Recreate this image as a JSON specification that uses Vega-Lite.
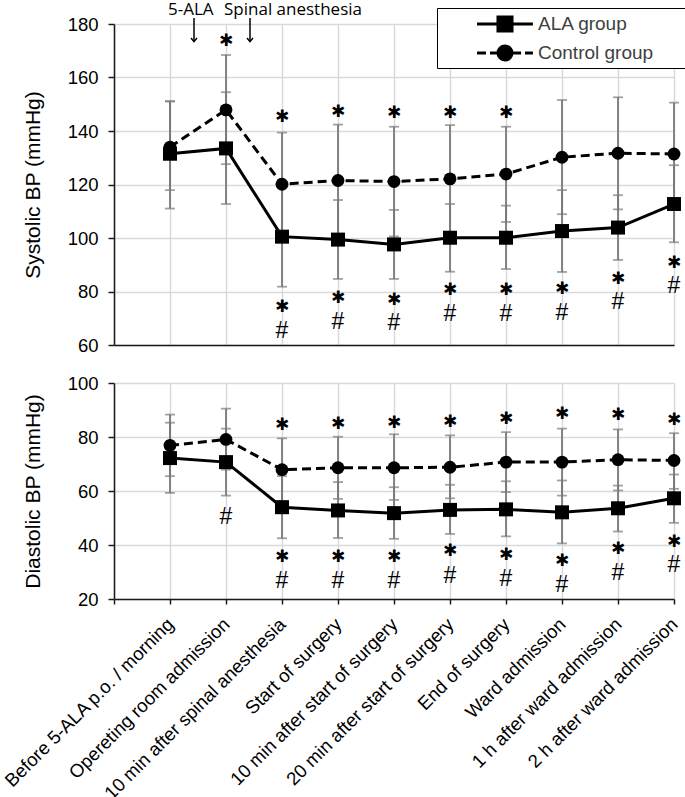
{
  "$schema": "https://vega.github.io/schema/vega-lite/v6.json",
  "background": "white",
  "padding": {"left": 0, "top": 0, "right": 0, "bottom": 0},
  "spacing": 19,
  "config": {
    "view": {"stroke": null},
    "axis": {
      "domainColor": "#1a1a1a", "domainWidth": 1.5,
      "tickColor": "#1a1a1a", "tickWidth": 1.5,
      "gridColor": "#d9d9d9", "gridWidth": 1.5,
      "labelFont": "Liberation Sans", "labelFontSize": 18.5, "labelColor": "#000000",
      "titleFont": "Liberation Sans", "titleFontSize": 21, "titleFontWeight": "normal", "titleColor": "#000000"
    }
  },
  "datasets": {
    "sbp": [
      {"time": "Before 5-ALA p.o. / morning", "group": "ALA group", "mean": 131.5, "lo": 111.0, "hi": 151.2},
      {"time": "Opereting room admission", "group": "ALA group", "mean": 133.5, "lo": 112.7, "hi": 154.5},
      {"time": "10 min after spinal anesthesia", "group": "ALA group", "mean": 100.5, "lo": 81.8, "hi": 119.2},
      {"time": "Start of surgery", "group": "ALA group", "mean": 99.4, "lo": 84.7, "hi": 114.2},
      {"time": "10 min after start of surgery", "group": "ALA group", "mean": 97.6, "lo": 84.7, "hi": 110.5},
      {"time": "20 min after start of surgery", "group": "ALA group", "mean": 100.1, "lo": 87.4, "hi": 112.7},
      {"time": "End of surgery", "group": "ALA group", "mean": 100.1, "lo": 88.4, "hi": 112.1},
      {"time": "Ward admission", "group": "ALA group", "mean": 102.6, "lo": 87.3, "hi": 117.9},
      {"time": "1 h after ward admission", "group": "ALA group", "mean": 103.9, "lo": 91.8, "hi": 116.0},
      {"time": "2 h after ward admission", "group": "ALA group", "mean": 112.7, "lo": 98.4, "hi": 127.2},
      {"time": "Before 5-ALA p.o. / morning", "group": "Control group", "mean": 134.0, "lo": 117.9, "hi": 151.0},
      {"time": "Opereting room admission", "group": "Control group", "mean": 147.9, "lo": 127.6, "hi": 168.4},
      {"time": "10 min after spinal anesthesia", "group": "Control group", "mean": 120.1, "lo": 100.7, "hi": 139.4},
      {"time": "Start of surgery", "group": "Control group", "mean": 121.5, "lo": 100.5, "hi": 142.4},
      {"time": "10 min after start of surgery", "group": "Control group", "mean": 121.1, "lo": 100.6, "hi": 141.6},
      {"time": "20 min after start of surgery", "group": "Control group", "mean": 122.1, "lo": 102.0, "hi": 142.2},
      {"time": "End of surgery", "group": "Control group", "mean": 123.9, "lo": 106.0, "hi": 141.6},
      {"time": "Ward admission", "group": "Control group", "mean": 130.2, "lo": 108.9, "hi": 151.6},
      {"time": "1 h after ward admission", "group": "Control group", "mean": 131.7, "lo": 110.7, "hi": 152.6},
      {"time": "2 h after ward admission", "group": "Control group", "mean": 131.4, "lo": 112.2, "hi": 150.6}
    ],
    "dbp": [
      {"time": "Before 5-ALA p.o. / morning", "group": "ALA group", "mean": 72.2, "lo": 59.3, "hi": 85.3},
      {"time": "Opereting room admission", "group": "ALA group", "mean": 70.7, "lo": 58.3, "hi": 83.1},
      {"time": "10 min after spinal anesthesia", "group": "ALA group", "mean": 54.0, "lo": 42.5, "hi": 65.5},
      {"time": "Start of surgery", "group": "ALA group", "mean": 52.8, "lo": 42.6, "hi": 63.3},
      {"time": "10 min after start of surgery", "group": "ALA group", "mean": 51.8, "lo": 42.3, "hi": 61.4},
      {"time": "20 min after start of surgery", "group": "ALA group", "mean": 53.0, "lo": 44.1, "hi": 62.3},
      {"time": "End of surgery", "group": "ALA group", "mean": 53.2, "lo": 43.2, "hi": 63.6},
      {"time": "Ward admission", "group": "ALA group", "mean": 52.1, "lo": 40.6, "hi": 63.9},
      {"time": "1 h after ward admission", "group": "ALA group", "mean": 53.6, "lo": 45.0, "hi": 62.0},
      {"time": "2 h after ward admission", "group": "ALA group", "mean": 57.3, "lo": 48.2, "hi": 66.1},
      {"time": "Before 5-ALA p.o. / morning", "group": "Control group", "mean": 76.9, "lo": 65.5, "hi": 88.3},
      {"time": "Opereting room admission", "group": "Control group", "mean": 79.1, "lo": 67.9, "hi": 90.5},
      {"time": "10 min after spinal anesthesia", "group": "Control group", "mean": 67.9, "lo": 56.3, "hi": 79.5},
      {"time": "Start of surgery", "group": "Control group", "mean": 68.6, "lo": 57.1, "hi": 80.1},
      {"time": "10 min after start of surgery", "group": "Control group", "mean": 68.6, "lo": 56.7, "hi": 81.0},
      {"time": "20 min after start of surgery", "group": "Control group", "mean": 68.8, "lo": 57.3, "hi": 80.6},
      {"time": "End of surgery", "group": "Control group", "mean": 70.7, "lo": 59.6, "hi": 81.8},
      {"time": "Ward admission", "group": "Control group", "mean": 70.7, "lo": 58.3, "hi": 83.1},
      {"time": "1 h after ward admission", "group": "Control group", "mean": 71.6, "lo": 60.2, "hi": 82.8},
      {"time": "2 h after ward admission", "group": "Control group", "mean": 71.3, "lo": 60.8, "hi": 81.4}
    ],
    "sbp_sig": [
      {"time": "Opereting room admission", "sym": "✱", "y": 173.6},
      {"time": "10 min after spinal anesthesia", "sym": "✱", "y": 145.2},
      {"time": "Start of surgery", "sym": "✱", "y": 147.0},
      {"time": "10 min after start of surgery", "sym": "✱", "y": 146.8},
      {"time": "20 min after start of surgery", "sym": "✱", "y": 146.8},
      {"time": "End of surgery", "sym": "✱", "y": 146.8},
      {"time": "10 min after spinal anesthesia", "sym": "✱", "y": 74.2},
      {"time": "Start of surgery", "sym": "✱", "y": 77.4},
      {"time": "10 min after start of surgery", "sym": "✱", "y": 76.8},
      {"time": "20 min after start of surgery", "sym": "✱", "y": 80.6},
      {"time": "End of surgery", "sym": "✱", "y": 80.6},
      {"time": "Ward admission", "sym": "✱", "y": 80.8},
      {"time": "1 h after ward admission", "sym": "✱", "y": 84.7},
      {"time": "2 h after ward admission", "sym": "✱", "y": 90.8},
      {"time": "10 min after spinal anesthesia", "sym": "#", "y": 65.4},
      {"time": "Start of surgery", "sym": "#", "y": 68.7},
      {"time": "10 min after start of surgery", "sym": "#", "y": 68.1},
      {"time": "20 min after start of surgery", "sym": "#", "y": 71.7},
      {"time": "End of surgery", "sym": "#", "y": 71.7},
      {"time": "Ward admission", "sym": "#", "y": 71.9},
      {"time": "1 h after ward admission", "sym": "#", "y": 76.2},
      {"time": "2 h after ward admission", "sym": "#", "y": 82.0}
    ],
    "dbp_sig": [
      {"time": "10 min after spinal anesthesia", "sym": "✱", "y": 84.3},
      {"time": "Start of surgery", "sym": "✱", "y": 84.9},
      {"time": "10 min after start of surgery", "sym": "✱", "y": 85.3},
      {"time": "20 min after start of surgery", "sym": "✱", "y": 85.5},
      {"time": "End of surgery", "sym": "✱", "y": 86.8},
      {"time": "Ward admission", "sym": "✱", "y": 88.6},
      {"time": "1 h after ward admission", "sym": "✱", "y": 88.0},
      {"time": "2 h after ward admission", "sym": "✱", "y": 86.4},
      {"time": "10 min after spinal anesthesia", "sym": "✱", "y": 35.7},
      {"time": "Start of surgery", "sym": "✱", "y": 35.7},
      {"time": "10 min after start of surgery", "sym": "✱", "y": 35.7},
      {"time": "20 min after start of surgery", "sym": "✱", "y": 37.9},
      {"time": "End of surgery", "sym": "✱", "y": 36.3},
      {"time": "Ward admission", "sym": "✱", "y": 34.2},
      {"time": "1 h after ward admission", "sym": "✱", "y": 38.5},
      {"time": "2 h after ward admission", "sym": "✱", "y": 41.0},
      {"time": "Opereting room admission", "sym": "#", "y": 50.5},
      {"time": "10 min after spinal anesthesia", "sym": "#", "y": 26.5},
      {"time": "Start of surgery", "sym": "#", "y": 26.6},
      {"time": "10 min after start of surgery", "sym": "#", "y": 26.8},
      {"time": "20 min after start of surgery", "sym": "#", "y": 28.6},
      {"time": "End of surgery", "sym": "#", "y": 27.4},
      {"time": "Ward admission", "sym": "#", "y": 25.3},
      {"time": "1 h after ward admission", "sym": "#", "y": 29.6},
      {"time": "2 h after ward admission", "sym": "#", "y": 32.7}
    ],
    "events": [
      {"event": "5-ALA", "time": "Before 5-ALA p.o. / morning"},
      {"event": "Spinal anesthesia", "time": "Opereting room admission"}
    ]
  },
  "vconcat": [
    {
      "width": 560,
      "height": 321,
      "data": {"name": "sbp"},
      "encoding": {
        "x": {
          "field": "time", "type": "nominal",
          "scale": {"type": "point", "padding": 0, "domain": ["", "Before 5-ALA p.o. / morning", "Opereting room admission", "10 min after spinal anesthesia", "Start of surgery", "10 min after start of surgery", "20 min after start of surgery", "End of surgery", "Ward admission", "1 h after ward admission", "2 h after ward admission"]},
          "axis": {"labels": false, "ticks": false, "title": null, "grid": true, "domain": true}
        }
      },
      "layer": [
        {
          "mark": {"type": "rule", "color": "#7a7a7a", "strokeWidth": 1.8},
          "encoding": {
            "y": {"field": "lo", "type": "quantitative", "scale": {"domain": [60, 180], "nice": false}, "axis": {"values": [60, 80, 100, 120, 140, 160, 180], "title": "Systolic BP (mmHg)", "tickSize": 6, "labelPadding": 10, "titlePadding": 24, "grid": true}},
            "y2": {"field": "hi"}
          }
        },
        {
          "mark": {"type": "tick", "color": "#7a7a7a", "size": 10, "thickness": 1.8},
          "encoding": {"y": {"field": "lo", "type": "quantitative"}}
        },
        {
          "mark": {"type": "tick", "color": "#7a7a7a", "size": 10, "thickness": 1.8},
          "encoding": {"y": {"field": "hi", "type": "quantitative"}}
        },
        {
          "transform": [{"filter": "datum.group == 'ALA group'"}],
          "mark": {"type": "line", "color": "black", "strokeWidth": 3},
          "encoding": {"y": {"field": "mean", "type": "quantitative"}, "order": {"value": null}}
        },
        {
          "transform": [{"filter": "datum.group == 'Control group'"}],
          "mark": {"type": "line", "color": "black", "strokeWidth": 3, "strokeDash": [9, 5]},
          "encoding": {"y": {"field": "mean", "type": "quantitative"}, "order": {"value": null}}
        },
        {
          "transform": [{"filter": "datum.group == 'ALA group'"}],
          "mark": {"type": "point", "filled": true, "color": "black", "opacity": 1, "shape": "square", "size": 196},
          "encoding": {"y": {"field": "mean", "type": "quantitative"}}
        },
        {
          "transform": [{"filter": "datum.group == 'Control group'"}],
          "mark": {"type": "point", "filled": true, "color": "black", "opacity": 1, "shape": "circle", "size": 165},
          "encoding": {"y": {"field": "mean", "type": "quantitative"}}
        },
        {
          "mark": {"type": "point", "filled": true, "fill": "black", "stroke": "black", "strokeWidth": 3, "size": 1, "opacity": 1},
          "encoding": {
            "y": {"field": "mean", "type": "quantitative"},
            "shape": {
              "field": "group", "type": "nominal",
              "scale": {"domain": ["ALA group", "Control group"], "range": [
                "M-2.07,0H2.07M-0.52,-0.52H0.52V0.52H-0.52ZM13.2,0",
                "M-2.07,0H-1.41M-1.11,0H-0.52M0.52,0H1.19M1.48,0H2.07M-0.52,0A0.52,0.52 0 1,0 0.52,0A0.52,0.52 0 1,0 -0.52,0ZM13.2,0"
              ]},
              "legend": {
                "title": null, "orient": "none", "legendX": 323, "legendY": -16,
                "strokeColor": "black", "fillColor": "white", "padding": 1,
                "symbolSize": 729, "symbolStrokeWidth": 3, "symbolFillColor": "black", "symbolStrokeColor": "black", "symbolOpacity": 1,
                "symbolOffset": 52, "labelOffset": 18, "rowPadding": 0,
                "labelFont": "Liberation Sans", "labelFontSize": 19, "labelColor": "#404040",
                "encoding": {"symbols": {"stroke": {"value": "black"}, "strokeWidth": {"value": 3}, "fill": {"value": "black"}}}
              }
            }
          }
        },
        {
          "data": {"name": "sbp_sig"},
          "transform": [{"filter": "datum.sym == '✱'"}],
          "mark": {"type": "text", "font": "DejaVu Sans", "fontSize": 17, "baseline": "middle", "align": "center", "color": "black"},
          "encoding": {"y": {"field": "y", "type": "quantitative"}, "text": {"field": "sym"}}
        },
        {
          "data": {"name": "sbp_sig"},
          "transform": [{"filter": "datum.sym == '#'"}],
          "mark": {"type": "text", "font": "Liberation Sans", "fontSize": 23, "baseline": "middle", "align": "center", "color": "black"},
          "encoding": {"y": {"field": "y", "type": "quantitative"}, "text": {"field": "sym"}}
        },
        {
          "data": {"name": "events"},
          "mark": {"type": "text", "font": "Open Sans", "fontSize": 17, "baseline": "middle", "align": "left", "dx": -2, "color": "black"},
          "encoding": {"y": {"datum": 185.4}, "text": {"field": "event"}}
        },
        {
          "data": {"name": "events"},
          "mark": {"type": "rule", "color": "black", "strokeWidth": 1.5, "xOffset": 24},
          "encoding": {"y": {"datum": 182.2}, "y2": {"datum": 173.4}}
        },
        {
          "data": {"name": "events"},
          "mark": {"type": "point", "shape": "M-1,-1.2L0,0L1,-1.2", "filled": false, "color": "black", "strokeWidth": 1.5, "size": 36, "xOffset": 24, "opacity": 1},
          "encoding": {"y": {"datum": 173.4}}
        }
      ]
    },
    {
      "width": 560,
      "height": 216,
      "data": {"name": "dbp"},
      "encoding": {
        "x": {
          "field": "time", "type": "nominal",
          "scale": {"type": "point", "padding": 0, "domain": ["", "Before 5-ALA p.o. / morning", "Opereting room admission", "10 min after spinal anesthesia", "Start of surgery", "10 min after start of surgery", "20 min after start of surgery", "End of surgery", "Ward admission", "1 h after ward admission", "2 h after ward admission"]},
          "axis": {"labelAngle": -45, "labelAlign": "right", "labelBaseline": "middle", "labelFontSize": 18.6, "title": null, "grid": true, "domain": true, "ticks": true, "tickSize": 5, "labelPadding": 17, "labelLimit": 400}
        }
      },
      "layer": [
        {
          "mark": {"type": "rule", "color": "#7a7a7a", "strokeWidth": 1.8},
          "encoding": {
            "y": {"field": "lo", "type": "quantitative", "scale": {"domain": [20, 100], "nice": false}, "axis": {"values": [20, 40, 60, 80, 100], "title": "Diastolic BP (mmHg)", "tickSize": 6, "labelPadding": 10, "titlePadding": 24, "grid": true}},
            "y2": {"field": "hi"}
          }
        },
        {
          "mark": {"type": "tick", "color": "#7a7a7a", "size": 10, "thickness": 1.8},
          "encoding": {"y": {"field": "lo", "type": "quantitative"}}
        },
        {
          "mark": {"type": "tick", "color": "#7a7a7a", "size": 10, "thickness": 1.8},
          "encoding": {"y": {"field": "hi", "type": "quantitative"}}
        },
        {
          "transform": [{"filter": "datum.group == 'ALA group'"}],
          "mark": {"type": "line", "color": "black", "strokeWidth": 3},
          "encoding": {"y": {"field": "mean", "type": "quantitative"}, "order": {"value": null}}
        },
        {
          "transform": [{"filter": "datum.group == 'Control group'"}],
          "mark": {"type": "line", "color": "black", "strokeWidth": 3, "strokeDash": [9, 5]},
          "encoding": {"y": {"field": "mean", "type": "quantitative"}, "order": {"value": null}}
        },
        {
          "transform": [{"filter": "datum.group == 'ALA group'"}],
          "mark": {"type": "point", "filled": true, "color": "black", "opacity": 1, "shape": "square", "size": 196},
          "encoding": {"y": {"field": "mean", "type": "quantitative"}}
        },
        {
          "transform": [{"filter": "datum.group == 'Control group'"}],
          "mark": {"type": "point", "filled": true, "color": "black", "opacity": 1, "shape": "circle", "size": 165},
          "encoding": {"y": {"field": "mean", "type": "quantitative"}}
        },
        {
          "data": {"name": "dbp_sig"},
          "transform": [{"filter": "datum.sym == '✱'"}],
          "mark": {"type": "text", "font": "DejaVu Sans", "fontSize": 17, "baseline": "middle", "align": "center", "color": "black"},
          "encoding": {"y": {"field": "y", "type": "quantitative"}, "text": {"field": "sym"}}
        },
        {
          "data": {"name": "dbp_sig"},
          "transform": [{"filter": "datum.sym == '#'"}],
          "mark": {"type": "text", "font": "Liberation Sans", "fontSize": 23, "baseline": "middle", "align": "center", "color": "black"},
          "encoding": {"y": {"field": "y", "type": "quantitative"}, "text": {"field": "sym"}}
        }
      ]
    }
  ]
}
